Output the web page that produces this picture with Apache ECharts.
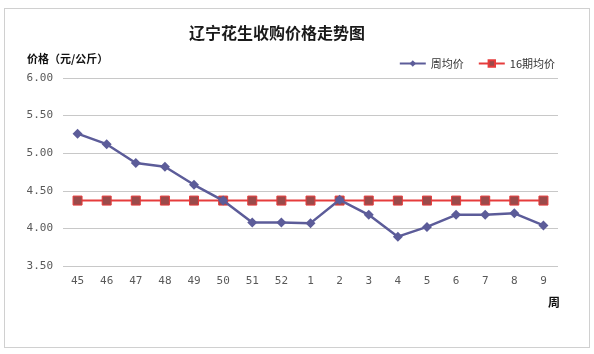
<!DOCTYPE html>
<html>
<head>
<meta charset="utf-8">
<script src="https://cdn.jsdelivr.net/npm/echarts@6/dist/echarts.min.js"></script>
<style>
    body { margin: 0; background: #fff; }
    #box {
        position: absolute; left: 4px; top: 8px;
        width: 584px; height: 338px;
        border: 1px solid #d0d0d0;
    }
    #chart { position: absolute; left: 0; top: 0; width: 594px; height: 354px; }
</style>
</head>
<body>
<div id="box"></div>
<div id="chart"></div>
<script>
    // 周次
    const weeks = ['45', '46', '47', '48', '49', '50', '51', '52', '1', '2', '3', '4', '5', '6', '7', '8', '9']
    // 周均价
    const weeklyPrice = [5.26, 5.12, 4.87, 4.82, 4.58, 4.37, 4.08, 4.08, 4.07, 4.38, 4.18, 3.89, 4.02, 4.18, 4.18, 4.20, 4.04]
    // 16期均价
    const avgPrice = [4.37, 4.37, 4.37, 4.37, 4.37, 4.37, 4.37, 4.37, 4.37, 4.37, 4.37, 4.37, 4.37, 4.37, 4.37, 4.37, 4.37]

    let myChart = echarts.init(document.getElementById('chart'))

    let cjk = '"Noto Sans CJK SC", sans-serif'

    let option = {
        animation: false,
        textStyle: { fontFamily: cjk },
        title: {
            text: '辽宁花生收购价格走势图',
            left: 272,
            top: 20,
            textAlign: 'center',
            textStyle: { fontSize: 16, fontWeight: 'bold', color: '#1a1a1a', fontFamily: cjk }
        },
        legend: {
            right: 34,
            top: 53,
            itemWidth: 26,
            itemHeight: 8,
            itemGap: 14,
            textStyle: { fontSize: 11, color: '#333', fontFamily: cjk },
            data: ['周均价', '16期均价']
        },
        grid: {
            left: 63,
            right: 36,
            top: 78,
            bottom: 88
        },
        xAxis: {
            type: 'category',
            data: weeks,
            name: '周',
            nameLocation: 'end',
            nameGap: 0,
            nameTextStyle: {
                fontSize: 12, fontWeight: 'bold', color: '#111',
                padding: [30, 0, 0, -10], verticalAlign: 'top'
            },
            axisLine: { show: false },
            axisTick: { show: false },
            axisLabel: {
                color: '#595959', fontSize: 11, margin: 10,
                fontFamily: '"DejaVu Sans Mono", monospace'
            }
        },
        yAxis: {
            type: 'value',
            min: 3.5,
            max: 6,
            interval: 0.5,
            name: '价格（元/公斤）',
            nameLocation: 'end',
            nameGap: 14,
            nameTextStyle: {
                fontSize: 11, fontWeight: 'bold', color: '#111', align: 'left',
                padding: [0, 0, 0, -36]
            },
            axisLine: { show: false },
            axisTick: { show: false },
            axisLabel: {
                color: '#595959', fontSize: 11, margin: 10,
                fontFamily: '"DejaVu Sans Mono", monospace',
                formatter: v => v.toFixed(2)
            },
            splitLine: { lineStyle: { color: '#c8c8c8', width: 1 } }
        },
        series: [
            {
                name: '周均价',
                type: 'line',
                data: weeklyPrice,
                symbol: 'diamond',
                symbolSize: 10,
                lineStyle: { color: '#5c5c99', width: 2.5 },
                itemStyle: { color: '#5c5c99' },
                z: 3
            },
            {
                name: '16期均价',
                type: 'line',
                data: avgPrice,
                symbol: 'rect',
                symbolSize: 9,
                lineStyle: { color: '#e63c3c', width: 2 },
                itemStyle: { color: '#9b4a4a', borderColor: '#e63c3c', borderWidth: 1 },
                z: 2
            }
        ]
    }

    myChart.setOption(option)
</script>
</body>
</html>
